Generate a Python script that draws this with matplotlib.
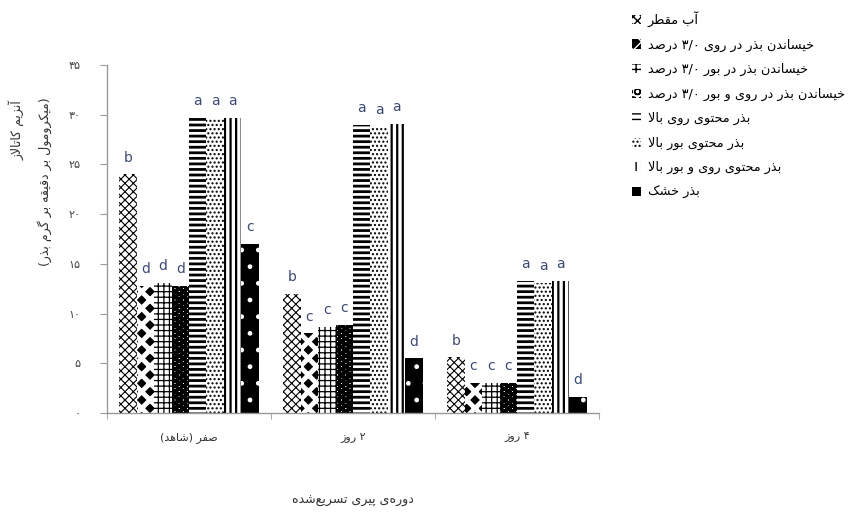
import numpy as np
import matplotlib
matplotlib.use("Agg")
import matplotlib.pyplot as plt

plt.rcParams['font.family'] = ['DejaVu Sans']

# data (catalase activity)
groups = ["صفر (شاهد)", "۲ روز", "۴ روز"]
treatments = [
    "آب مقطر",
    "خیساندن بذر در روی ۳/۰ درصد",
    "خیساندن بذر در بور ۳/۰ درصد",
    "خیساندن بذر در روی و بور ۳/۰ درصد",
    "بذر محتوی روی بالا",
    "بذر محتوی بور بالا",
    "بذر محتوی روی و بور بالا",
    "بذر خشک",
]
values = [
    [24.0, 12.8, 13.1, 12.8, 29.7, 29.7, 29.7, 17.0],
    [12.0, 8.0, 8.7, 8.9, 29.0, 28.8, 29.1, 5.5],
    [5.6, 3.0, 3.0, 3.0, 13.3, 13.1, 13.3, 1.6],
]
letters = [
    ["b", "d", "d", "d", "a", "a", "a", "c"],
    ["b", "c", "c", "c", "a", "a", "a", "d"],
    ["b", "c", "c", "c", "a", "a", "a", "d"],
]
y_ticks = [0, 5, 10, 15, 20, 25, 30, 35]
x_title = "دوره‌ی پیری تسریع‌شده"
y_title1 = "آنزیم کاتالاز"
y_title2 = "(میکرومول بر دقیقه بر گرم بذر)"

# ---- minimal persian shaping (matplotlib has no bidi/shaping) ----
FORMS = {  # isolated, final, initial, medial
    'ا': (0xFE8D, 0xFE8E, None, None),
    'آ': (0xFE81, 0xFE82, None, None),
    'ب': (0xFE8F, 0xFE90, 0xFE91, 0xFE92),
    'پ': (0xFB56, 0xFB57, 0xFB58, 0xFB59),
    'ت': (0xFE95, 0xFE96, 0xFE97, 0xFE98),
    'ح': (0xFEA1, 0xFEA2, 0xFEA3, 0xFEA4),
    'خ': (0xFEA5, 0xFEA6, 0xFEA7, 0xFEA8),
    'د': (0xFEA9, 0xFEAA, None, None),
    'ذ': (0xFEAB, 0xFEAC, None, None),
    'ر': (0xFEAD, 0xFEAE, None, None),
    'ز': (0xFEAF, 0xFEB0, None, None),
    'س': (0xFEB1, 0xFEB2, 0xFEB3, 0xFEB4),
    'ش': (0xFEB5, 0xFEB6, 0xFEB7, 0xFEB8),
    'ص': (0xFEB9, 0xFEBA, 0xFEBB, 0xFEBC),
    'ط': (0xFEC1, 0xFEC2, 0xFEC3, 0xFEC4),
    'ع': (0xFEC9, 0xFECA, 0xFECB, 0xFECC),
    'ف': (0xFED1, 0xFED2, 0xFED3, 0xFED4),
    'ق': (0xFED5, 0xFED6, 0xFED7, 0xFED8),
    'ک': (0xFB8E, 0xFB8F, 0xFB90, 0xFB91),
    'گ': (0xFB92, 0xFB93, 0xFB94, 0xFB95),
    'ل': (0xFEDD, 0xFEDE, 0xFEDF, 0xFEE0),
    'م': (0xFEE1, 0xFEE2, 0xFEE3, 0xFEE4),
    'ن': (0xFEE5, 0xFEE6, 0xFEE7, 0xFEE8),
    'ه': (0xFEE9, 0xFEEA, 0xFEEB, 0xFEEC),
    'و': (0xFEED, 0xFEEE, None, None),
    'ی': (0xFBFC, 0xFBFD, 0xFBFE, 0xFBFF),
}
LAM_ALEF = {'ا': (0xFEFB, 0xFEFC), 'آ': (0xFEF5, 0xFEF6)}
MIRROR = {'(': ')', ')': '('}


def shape_word(w):
    out = []
    i = 0
    prev_joins = False
    while i < len(w):
        c = w[i]
        if c == 'ل' and i + 1 < len(w) and w[i + 1] in LAM_ALEF:
            iso, fin = LAM_ALEF[w[i + 1]]
            out.append(chr(fin if prev_joins else iso))
            prev_joins = False
            i += 2
            continue
        if c in FORMS:
            iso, fin, ini, med = FORMS[c]
            nxt = w[i + 1] if i + 1 < len(w) else ''
            to_next = ini is not None and nxt in FORMS
            if prev_joins and to_next:
                g = med
            elif prev_joins:
                g = fin
            elif to_next:
                g = ini
            else:
                g = iso
            out.append(chr(g))
            prev_joins = ini is not None
        else:
            if c != '\u200c':
                out.append(c)
            prev_joins = False
        i += 1
    if any(ch in FORMS for ch in w):
        out = [MIRROR.get(ch, ch) for ch in out[::-1]]
    return ''.join(out)


def fa(text):
    # shape each word and lay the words out right to left
    words = [shape_word(w) for w in text.split(' ')]
    return ' '.join(words[::-1])


def fa_num(n):
    return str(n).translate(str.maketrans('0123456789', '۰۱۲۳۴۵۶۷۸۹'))


# bar patterns: facecolor, hatch colour, hatch
styles = [
    ('white', 'black', 'xxxx'),
    ('black', 'white', 'xx'),
    ('white', 'black', '+++'),
    ('white', 'black', 'OO'),
    ('white', 'black', '---'),
    ('white', 'black', '....'),
    ('white', 'black', '|||'),
    ('black', 'white', '.'),
]
hatch_lw = [0.8, 3.5, 0.9, 2.6, 2.0, 1.0, 1.6, 1.0]

fig = plt.figure(figsize=(8.54, 5.13), dpi=100)
ax = fig.add_axes([0.1253, 0.1949, 0.5761, 0.6784])

n = len(treatments)
width = 0.106
x = np.arange(len(groups))
vals = np.array(values)
letter_col = '#3b4a72'

for k in range(n):
    fc, hc, h = styles[k]
    pos = x + (k - (n - 1) / 2) * width
    bars = ax.bar(pos, vals[:, k], width, color=fc, edgecolor=hc, hatch=h,
                  linewidth=0, label=fa(treatments[k]))
    for b in bars:
        if hasattr(b, 'set_hatch_linewidth'):
            b.set_hatch_linewidth(hatch_lw[k])
    for g, b in enumerate(bars):
        ax.annotate(letters[g][k], (b.get_x() + b.get_width() / 2, b.get_height()),
                    xytext=(0, 7), textcoords='offset points', ha='center',
                    va='bottom', fontsize=10, color=letter_col)

ax.set_xlim(-0.5, 2.5)
ax.set_ylim(0, 35)
ax.set_yticks(y_ticks)
ax.set_yticklabels([fa_num(v) for v in y_ticks], fontsize=8, color='#444444')
ax.set_xticks(x)
ax.set_xticklabels([fa(g) for g in groups], fontsize=8, color='#333333')
ax.set_xticks([-0.5, 0.5, 1.5, 2.5], minor=True)
ax.tick_params(axis='x', which='major', length=0, pad=14)
ax.tick_params(axis='x', which='minor', length=4, color='#999999')
ax.tick_params(axis='y', length=5, color='#999999', pad=14)

for s in ['top', 'right']:
    ax.spines[s].set_visible(False)
for s in ['left', 'bottom']:
    ax.spines[s].set_color('#999999')
    ax.spines[s].set_linewidth(1.0)

ax.set_xlabel(fa(x_title), fontsize=9, color='#333333')
ax.xaxis.set_label_coords(0.5, -0.233)

fig.text(17 / 854, 1 - 130 / 513, fa(y_title1), rotation=90,
         ha='center', va='center', fontsize=9, color='#333333')
fig.text(45 / 854, 1 - 182 / 513, fa(y_title2), rotation=90,
         ha='center', va='center', fontsize=9, color='#333333')

leg = fig.legend(loc='upper left', bbox_to_anchor=(627 / 854, 1 - 6 / 513),
                 bbox_transform=fig.transFigure, frameon=False,
                 fontsize=9.3, handlelength=0.7, handleheight=0.7, handletextpad=0.5,
                 labelspacing=0.88, borderaxespad=0)

fig.savefig('out.png', dpi=100)
